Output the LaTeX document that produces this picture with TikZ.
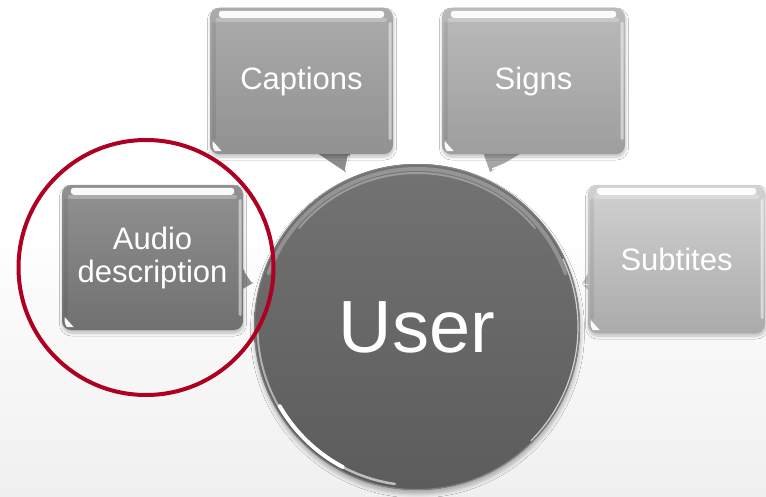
\documentclass[tikz,border=0pt]{standalone}
\usepackage{fontspec}
\setmainfont{Liberation Sans}
\usetikzlibrary{calc,shadows.blur}
\definecolor{ringred}{HTML}{AE0021}
\tikzset{
  callbox/.style={rectangle, rounded corners=9pt, inner sep=0pt, align=center,
    text=white, font=\fontsize{31}{33}\selectfont,
    blur shadow={shadow xshift=0.5pt, shadow yshift=-3pt, shadow blur steps=6, shadow opacity=25, shadow blur radius=3pt}},
  pointer/.style={fill=#1, draw=none},
  shine/.style={fill=white, draw=none},
}
\newcommand{\boxdeco}[1]{%
  \fill[shine, opacity=0.95, rounded corners=3pt] ($(#1.north west)+(9,3)$) rectangle ($(#1.north east)+(-9,10)$);
  \fill[shine, opacity=0.25, rounded corners=2pt] ($(#1.north west)+(6,10)$) rectangle ($(#1.north east)+(-6,14)$);
  \fill[shine, opacity=0.5, rounded corners=1.5pt] ($(#1.north east)+(-4.5,14)$) rectangle ($(#1.south east)+(-1.5,-14)$);
  \fill[black, opacity=0.07, rounded corners=2pt] ($(#1.north west)+(2,14)$) rectangle ($(#1.south west)+(6,-14)$);
  \fill[shine, opacity=0.95] ($(#1.south west)+(3,-13)$) -- ($(#1.south west)+(12,-3)$) -- ($(#1.south west)+(5,-3)$) to[bend left=20] cycle;
}
\begin{document}
\begin{tikzpicture}[x=1pt,y=-1pt]
\useasboundingbox (0,0) rectangle (766,497);
\fill[white] (0,0) rectangle (766,497);
\shade[top color=white, bottom color=black!6] (0,220) rectangle (766,497);

% pointers (behind boxes)
\coordinate (cs) at (301.5,154);
\coordinate (ss) at (533.5,154);
\coordinate (ae) at (243,257.5);
\coordinate (tw) at (588,259);

\fill[pointer=black!45] ($(cs)+(14,-2)$) -- ($(cs)+(49,-2)$) -- ($(cs)+(44,18)$) -- cycle;
\draw[white, line width=1.5pt, line cap=round] ($(cs)+(47,2)$) -- ($(cs)+(44,16)$);
\fill[pointer=black!35] ($(ss)+(-50.5,-2)$) -- ($(ss)+(-10.5,-2)$) -- ($(ss)+(-43.5,18)$) -- cycle;
\draw[white, line width=1.5pt, line cap=round] ($(ss)+(-14,4)$) -- ($(ss)+(-41,15)$);
\fill[pointer=black!45] ($(ae)+(-2,8.5)$) -- ($(ae)+(-2,32.5)$) -- ($(ae)+(10,25.5)$) -- cycle;
\draw[white, line width=1.2pt, line cap=round] ($(ae)+(2,14)$) -- ($(ae)+(9,24.5)$);
\fill[pointer=black!25] ($(tw)+(2,11)$) -- ($(tw)+(2,33)$) -- ($(tw)+(-6,25)$) -- cycle;
\draw[white, line width=1.2pt, line cap=round] ($(tw)+(-5,25)$) -- ($(tw)+(1,26)$);

% boxes
\node[callbox, minimum width=183pt, minimum height=146pt, top color=black!33, bottom color=black!43] (cap) at (301.5,81) {Captions};
\node[callbox, minimum width=183pt, minimum height=146pt, top color=black!27, bottom color=black!38] (sig) at (533.5,81) {Signs};
\node[callbox, minimum width=181pt, minimum height=145pt, top color=black!43, bottom color=black!56] (aud) at (152.5,257.5) {Audio\\description};
\node[callbox, minimum width=177pt, minimum height=148pt, top color=black!18, bottom color=black!33] (sub) at (676.5,259) {Subtites};
\boxdeco{cap}
\boxdeco{sig}
\boxdeco{aud}
\boxdeco{sub}

% user circle
\node[circle, minimum size=326pt, inner sep=0pt, top color=black!55, bottom color=black!64,
  text=white, font=\fontsize{74}{80}\selectfont,
  blur shadow={shadow xshift=0.5pt, shadow yshift=-4pt, shadow blur steps=6, shadow opacity=30, shadow blur radius=4pt}] (user) at (417,327) {User};
\draw[black!50, line width=1pt] (user.center) circle[radius=162.5pt];
% light inner band at the top
\draw[white, line width=4pt, opacity=0.25, line cap=round] ($(user.center)+(-160:158)$) arc[start angle=-160, end angle=-20, radius=158];
\draw[white, line width=2pt, opacity=0.3, line cap=round] ($(user.center)+(-140:154)$) arc[start angle=-140, end angle=-40, radius=154];
% highlights on rim (angles in flipped y: positive = downward)
\draw[white, line width=2pt, opacity=0.5, line cap=round] ($(user.center)+(178:159.5)$) arc[start angle=178, end angle=150, radius=159.5];
\draw[white, line width=4pt, opacity=1, line cap=round] ($(user.center)+(150:158.5)$) arc[start angle=150, end angle=118, radius=158.5];
\draw[white, line width=2.5pt, opacity=0.6, line cap=round] ($(user.center)+(118:158.5)$) arc[start angle=118, end angle=98, radius=158.5];
\draw[black!8, line width=1.2pt, opacity=0.8] ($(user.center)+(-25:161)$) arc[start angle=-25, end angle=45, radius=161];

% red ring
\node[circle, draw=ringred, line width=4pt, minimum size=255pt, inner sep=0pt] (ring) at (146,267.5) {};
\end{tikzpicture}
\end{document}
